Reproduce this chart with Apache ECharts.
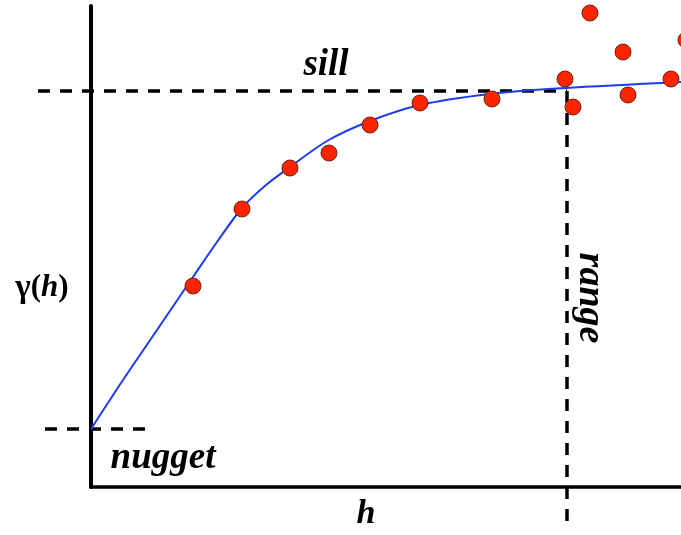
<!DOCTYPE html>
<html>
<head>
<meta charset="utf-8">
<script src="https://cdn.jsdelivr.net/npm/echarts@6/dist/echarts.min.js"></script>
<style>
html,body{margin:0;padding:0;background:#fff;}
#c{width:681px;height:535px;}
</style>
</head>
<body>
<div id="c"></div>
<script>
// Experimental variogram points (lag h, gamma)
const lagH      = [102, 151, 199, 238, 279, 329, 401, 474, 482, 499, 532, 537, 580, 595];
const gammaObs  = [201, 278, 319, 334, 362, 384, 388, 408, 380, 474, 435, 392, 408, 447];
// Fitted model curve
const modelH     = [0, 32, 66, 102, 126, 151, 175, 199, 236, 279, 329, 399, 474, 590];
const modelGamma = [58, 107, 157, 210, 245, 279, 302, 320, 346, 366, 382, 393, 399, 405];
// Reference levels
const nuggetLevel = 58;
const sillLevel   = 396;
const rangeLag    = 476;
const sillLineX   = [-53, 476];
const rangeLineY  = [396, -43];
const nuggetLineX = [-46, 57];

const FONT = '"Liberation Serif", "Times New Roman", serif';

const chart = echarts.init(document.getElementById('c'), null, {renderer: 'canvas'});
const dashStyle = {color: '#000', width: 3.5, type: [12, 10]};
const hidden = {axisTick: {show: false}, axisLabel: {show: false}, splitLine: {show: false}};
chart.setOption({
  animation: false,
  backgroundColor: '#fff',
  grid: [
    {left: 0, right: 0, top: 6, bottom: 48},
    {left: 91, right: 0, top: 6, bottom: 48}
  ],
  xAxis: [
    Object.assign({type: 'value', gridIndex: 0, min: -91, max: 590, axisLine: {show: false}}, hidden),
    Object.assign({type: 'value', gridIndex: 1, min: 0, max: 590,
      axisLine: {show: true, onZero: false, lineStyle: {color: '#000', width: 3.5}}}, hidden)
  ],
  yAxis: [
    Object.assign({type: 'value', gridIndex: 0, min: 0, max: 481,
      axisLine: {show: true, onZero: true, lineStyle: {color: '#000', width: 4}}}, hidden),
    Object.assign({type: 'value', gridIndex: 1, min: 0, max: 481, show: false}, hidden)
  ],
  series: [
    {
      type: 'line', clip: false, symbol: 'none', silent: true,
      data: sillLineX.map(x => [x, sillLevel]),
      lineStyle: dashStyle, z: 1
    },
    {
      type: 'line', clip: false, symbol: 'none', silent: true,
      data: rangeLineY.map(y => [rangeLag, y]),
      lineStyle: dashStyle, z: 1
    },
    {
      type: 'line', clip: false, symbol: 'none', silent: true,
      data: nuggetLineX.map(x => [x, nuggetLevel]),
      lineStyle: dashStyle, z: 1
    },
    {
      type: 'line', clip: false, symbol: 'none', silent: true,
      smooth: 0.3,
      data: modelH.map((h, i) => [h, modelGamma[i]]),
      lineStyle: {color: '#1a3cf2', width: 2}, z: 2
    },
    {
      type: 'scatter', clip: false, silent: true,
      symbol: 'circle', symbolSize: 16,
      data: lagH.map((h, i) => [h, gammaObs[i]]),
      itemStyle: {color: '#ff2400', opacity: 1, borderColor: '#6a2618', borderWidth: 1}, z: 3
    }
  ],
  graphic: [
    {type: 'text', x: 326, y: 65, style: {text: 'sill', font: 'italic bold 37px ' + FONT, fill: '#000', align: 'center', verticalAlign: 'middle'}},
    {type: 'text', x: 163, y: 458, style: {text: 'nugget', font: 'italic bold 37px ' + FONT, fill: '#000', align: 'center', verticalAlign: 'middle'}},
    {type: 'text', x: 366, y: 514, style: {text: 'h', font: 'italic bold 34px ' + FONT, fill: '#000', align: 'center', verticalAlign: 'middle'}},
    {type: 'text', x: 590, y: 298, rotation: -Math.PI / 2, style: {text: 'range', font: 'italic bold 38px ' + FONT, fill: '#000', align: 'center', verticalAlign: 'middle'}},
    {type: 'text', x: 42, y: 288, style: {
      text: '{g|γ}{p|(}{h|h}{p|)}', align: 'center', verticalAlign: 'middle',
      rich: {
        g: {font: 'bold 33px ' + FONT, fill: '#000'},
        p: {font: 'bold 31px ' + FONT, fill: '#000'},
        h: {font: 'italic bold 31px ' + FONT, fill: '#000'}
      }
    }}
  ]
});
</script>
</body>
</html>
